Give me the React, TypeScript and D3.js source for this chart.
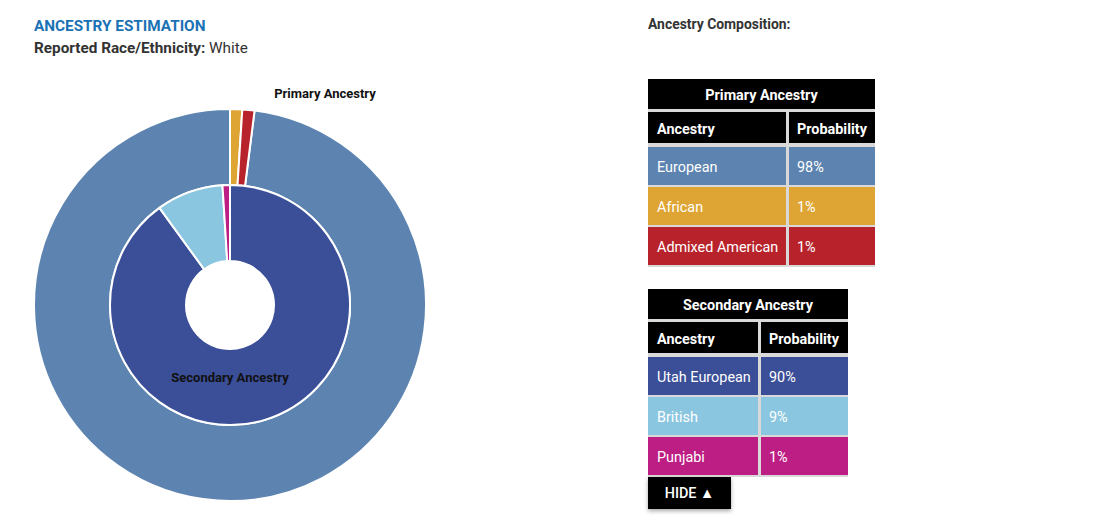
import React, { useRef, useEffect } from 'react';
import * as d3 from 'd3';

const primaryNames = ['European', 'African', 'Admixed American'];
const primaryValues = [98, 1, 1];
const primaryColors = ['#5d84b0', '#dea534', '#b8232b'];

const secondaryNames = ['Utah European', 'British', 'Punjabi'];
const secondaryValues = [90, 9, 1];
const secondaryColors = ['#3b4e98', '#8bc6e0', '#bd1e83'];

const tableHeaders = ['Ancestry', 'Probability'];
const reportedRace = 'White';

const FONT = 'Roboto, "Noto Sans", sans-serif';

const App = () => {
  const ref = useRef<SVGSVGElement>(null);

  useEffect(() => {
    const svg = d3.select(ref.current);
    svg.selectAll('*').remove();

    // Header text
    svg.append('text')
      .attr('x', 34).attr('y', 31)
      .attr('font-family', FONT).attr('font-size', 15.3).attr('font-weight', 700)
      .attr('fill', '#1a72b5')
      .text('ANCESTRY ESTIMATION');

    const rep = svg.append('text')
      .attr('x', 34).attr('y', 53)
      .attr('font-family', FONT).attr('font-size', 15.3)
      .attr('fill', '#333');
    rep.append('tspan').attr('font-weight', 700).text('Reported Race/Ethnicity: ');
    rep.append('tspan').text(reportedRace);

    svg.append('text')
      .attr('x', 648).attr('y', 29)
      .attr('font-family', FONT).attr('font-size', 13.9).attr('font-weight', 700)
      .attr('fill', '#333')
      .text('Ancestry Composition:');

    // Nested donuts; pie over indices so each arc keeps its own row
    const cx = 230, cy = 305;
    const chart = svg.append('g').attr('transform', `translate(${cx}, ${cy})`);

    const outerPie = d3.pie<number>()
      .value(i => primaryValues[i])
      .sort((a, b) => primaryValues[a] - primaryValues[b]);
    const innerPie = d3.pie<number>()
      .value(i => secondaryValues[i])
      .sort((a, b) => secondaryValues[b] - secondaryValues[a]);

    const outerArc = d3.arc<d3.PieArcDatum<number>>().innerRadius(120).outerRadius(196);
    const innerArc = d3.arc<d3.PieArcDatum<number>>().innerRadius(44).outerRadius(120);

    chart.selectAll('path.outer')
      .data(outerPie(d3.range(primaryValues.length)))
      .join('path')
      .attr('class', 'outer')
      .attr('d', outerArc)
      .attr('fill', d => primaryColors[d.data])
      .attr('stroke', '#fff')
      .attr('stroke-width', 2);

    chart.selectAll('path.inner')
      .data(innerPie(d3.range(secondaryValues.length)))
      .join('path')
      .attr('class', 'inner')
      .attr('d', innerArc)
      .attr('fill', d => secondaryColors[d.data])
      .attr('stroke', '#fff')
      .attr('stroke-width', 2);

    svg.append('text')
      .attr('x', 325).attr('y', 98)
      .attr('text-anchor', 'middle')
      .attr('font-family', FONT).attr('font-size', 13).attr('font-weight', 700)
      .attr('fill', '#111')
      .text('Primary Ancestry');

    svg.append('text')
      .attr('x', cx).attr('y', 382)
      .attr('text-anchor', 'middle')
      .attr('font-family', FONT).attr('font-size', 13).attr('font-weight', 700)
      .attr('fill', '#111')
      .text('Secondary Ancestry');

    // Tables
    const drawTable = (x0: number, y0: number, colSplit: number, x1: number,
      title: string, names: string[], values: number[], colors: string[]) => {
      const g = svg.append('g').attr('font-family', FONT).attr('font-size', 14.4);
      const w = x1 - x0;
      // light borders behind cells
      g.append('rect')
        .attr('x', x0).attr('y', y0 + 30)
        .attr('width', w).attr('height', 36 + names.length * 40 + 2)
        .attr('fill', '#d9d9d9');
      g.append('rect')
        .attr('x', x0).attr('y', y0).attr('width', w).attr('height', 30)
        .attr('fill', '#000');
      g.append('text')
        .attr('x', x0 + w / 2).attr('y', y0 + 21)
        .attr('text-anchor', 'middle').attr('font-weight', 700).attr('fill', '#fff')
        .text(title);

      const hy = y0 + 33;
      g.append('rect').attr('x', x0).attr('y', hy).attr('width', colSplit - x0).attr('height', 31).attr('fill', '#000');
      g.append('rect').attr('x', colSplit + 3).attr('y', hy).attr('width', x1 - colSplit - 3).attr('height', 31).attr('fill', '#000');
      g.append('text').attr('x', x0 + 9).attr('y', hy + 22).attr('font-weight', 700).attr('fill', '#fff').text(tableHeaders[0]);
      g.append('text').attr('x', colSplit + 11).attr('y', hy + 22).attr('font-weight', 700).attr('fill', '#fff').text(tableHeaders[1]);

      names.forEach((name, i) => {
        const ry = y0 + 68 + i * 40;
        g.append('rect').attr('x', x0).attr('y', ry).attr('width', colSplit - x0).attr('height', 38).attr('fill', colors[i]);
        g.append('rect').attr('x', colSplit + 3).attr('y', ry).attr('width', x1 - colSplit - 3).attr('height', 38).attr('fill', colors[i]);
        g.append('text').attr('x', x0 + 9).attr('y', ry + 25).attr('fill', '#fff').text(name);
        g.append('text').attr('x', colSplit + 11).attr('y', ry + 25).attr('fill', '#fff').text(`${values[i]}%`);
      });
    };

    drawTable(648, 79, 786, 875, 'Primary Ancestry', primaryNames, primaryValues, primaryColors);
    drawTable(648, 289, 758, 848, 'Secondary Ancestry', secondaryNames, secondaryValues, secondaryColors);

    // Hide button
    const defs = svg.append('defs');
    const f = defs.append('filter').attr('id', 'btnShadow').attr('x', '-20%').attr('y', '-20%').attr('width', '140%').attr('height', '160%');
    f.append('feDropShadow').attr('dx', 0).attr('dy', 2).attr('stdDeviation', 2).attr('flood-color', '#000').attr('flood-opacity', 0.35);

    svg.append('rect')
      .attr('x', 648).attr('y', 477).attr('width', 83).attr('height', 32)
      .attr('fill', '#000').attr('filter', 'url(#btnShadow)');
    svg.append('text')
      .attr('x', 689.5).attr('y', 498)
      .attr('text-anchor', 'middle')
      .attr('font-family', FONT).attr('font-size', 14.4).attr('font-weight', 500)
      .attr('fill', '#fff')
      .text('HIDE ▲');
  }, []);

  return (
    <svg ref={ref} width={1109} height={519}
      style={{ position: 'absolute', left: 0, top: 0, background: '#fff' }} />
  );
};

export default App;
